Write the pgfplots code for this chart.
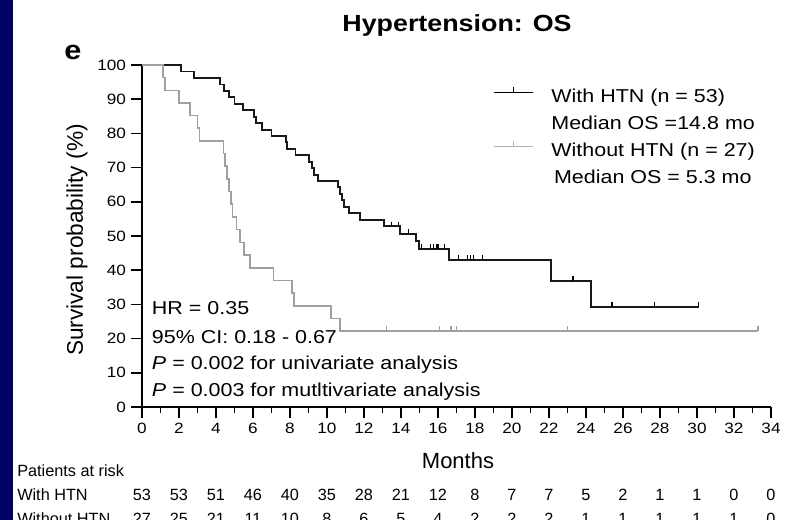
\documentclass[border=0pt]{standalone}
\usepackage{pgfplots}
\pgfplotsset{compat=1.18}
\usepackage{fontspec}
\setmainfont[FakeStretch=1.15]{Liberation Sans}
\newfontfamily\plainsans{Liberation Sans}
\definecolor{navyband}{RGB}{2,2,102}
\definecolor{nohtn}{RGB}{160,160,160}

% censoring tick: short vertical stroke rising from the curve
\pgfdeclareplotmark{cens}{%
  \pgfpathmoveto{\pgfpointorigin}%
  \pgfpathlineto{\pgfpoint{0pt}{3.5pt}}%
  \pgfusepathqstroke}

\begin{document}
\begin{tikzpicture}
\fill[white] (-106.5pt,-84.75pt) rectangle (483pt,305.25pt);
\fill[navyband] (-106.5pt,-84.75pt) rectangle (-96.75pt,305.25pt);

\begin{axis}[
  at={(0pt,0pt)}, anchor=south west,
  scale only axis, width=471.75pt, height=256.5pt,
  xmin=0, xmax=34, ymin=0, ymax=100,
  clip=false,
  axis lines=left,
  axis line style={-, line width=1.3pt},
  tick style={black, line width=1.1pt},
  tick align=outside,
  major tick length=8.5pt, minor tick length=4.25pt,
  xtick={0,2,...,34}, minor x tick num=1,
  ytick={0,10,...,100},
  /pgf/number format/assume math mode=true,
  tick label style={font=\fontsize{11.2}{13}\selectfont},
  xlabel={Months},
  xlabel style={font=\plainsans\fontsize{16.5}{19}\selectfont,
    at={(axis description cs:0.5024,-0.1784)}, anchor=base},
  ylabel={Survival probability (\%)},
  ylabel style={font=\plainsans\fontsize{17}{20}\selectfont,
    at={(axis description cs:-0.1033,0.488)}, anchor=center},
  legend cell align=left,
  legend style={draw=none, fill=none, at={(axis cs:18.97,94.7)},
    anchor=north west, inner sep=0pt, column sep=13.5pt, row sep=6.25pt,
    font=\fontsize{14}{16}\selectfont,
    nodes={inner sep=0pt, text height=14pt, text depth=0pt}},
]

% With HTN (n = 53)
\addplot[const plot mark left, black!90, line width=1.4pt,
  legend image code/.code={
    \draw[black, line width=0.9pt] (0pt,0pt) -- (29.25pt,0pt);
    \draw[black, line width=0.9pt] (14.6pt,0pt) -- (14.6pt,4pt);}]
  coordinates {
  (0,100) (2.1,98.1) (2.8,96.2) (4.2,94.3) (4.45,92.5) (4.7,90.6)
  (5.0,88.7) (5.45,86.8) (6.05,84.9) (6.15,83.0) (6.5,81.1) (7.0,79.2)
  (7.8,77.4) (7.85,75.5) (8.3,73.6) (9.05,71.7) (9.2,69.8) (9.3,67.9)
  (9.5,66.0) (10.6,64.2) (10.7,62.3) (10.8,60.4) (10.9,58.5) (11.2,56.6)
  (11.8,54.7) (13.1,52.8) (13.95,50.7) (14.8,48.6) (14.95,46.3)
  (16.6,43.0) (22.1,36.9) (24.25,29.3) (30.1,29.3)};
\addlegendentry{With HTN (n = 53)}
\addlegendimage{empty legend}
\addlegendentry{Median OS =14.8 mo}

% Without HTN (n = 27)
\addplot[const plot mark left, nohtn, line width=1.2pt,
  legend image code/.code={
    \draw[nohtn!80, line width=0.9pt] (0pt,0pt) -- (29.25pt,0pt);
    \draw[nohtn!80, line width=0.9pt] (14.6pt,0pt) -- (14.6pt,4pt);}]
  coordinates {
  (0,100) (1.15,96.3) (1.25,92.6) (2.0,88.9) (2.6,85.2) (3.0,81.5)
  (3.1,77.8) (4.4,74.1) (4.5,70.4) (4.6,66.7) (4.7,63.0) (4.8,59.3)
  (4.9,55.6) (5.1,51.9) (5.3,48.1) (5.5,44.4) (5.85,40.7) (7.1,37.0)
  (8.1,33.3) (8.2,29.6) (10.2,25.9) (10.7,22.2) (33.3,22.2)};
\addlegendentry{Without HTN (n = 27)}
\addlegendimage{empty legend}
\addlegendentry{\hspace{2pt}Median OS = 5.3 mo}

% censored observations
\addplot[forget plot, only marks, mark=cens, black, line width=0.9pt]
  coordinates {
  (13.5,52.8) (13.85,52.8) (14.4,50.7) (15.1,46.3) (15.6,46.3)
  (15.75,46.3) (15.9,46.3) (16.0,46.3) (16.35,46.3) (17.1,43.0)
  (17.6,43.0) (17.75,43.0) (17.9,43.0) (18.4,43.0) (23.3,36.9)
  (25.4,29.3) (27.7,29.3) (30.1,29.3)};
\addplot[forget plot, only marks, mark=cens, nohtn, line width=0.9pt]
  coordinates {
  (13.2,22.2) (16.1,22.2) (16.7,22.2) (17.0,22.2) (23.0,22.2) (33.3,22.2)};
\end{axis}

% title and panel letter
\node[anchor=base, font=\bfseries\fontsize{17.5}{20}\selectfont]
  at (236.25pt,281.25pt) {Hypertension: OS};
\node[anchor=base west, inner sep=0pt, font=\bfseries\fontsize{20}{22}\selectfont]
  at (-58.5pt,260.25pt) {e};

% statistics
\begin{scope}[every node/.style={anchor=base west, inner sep=0pt,
    font=\fontsize{14}{16}\selectfont}]
\node at (7.3pt,69.5pt) {HR = 0.35};
\node at (7.3pt,47.8pt) {95\% CI: 0.18 - 0.67};
\node at (7.3pt,28.3pt) {\textit{P} = 0.002 for univariate analysis};
\node at (7.3pt,7.7pt) {\textit{P} = 0.003 for mutltivariate analysis};
\end{scope}

% numbers at risk
\begin{scope}[every node/.style={inner sep=0pt,
    font=\plainsans\fontsize{12.2}{14}\selectfont}]
\node[anchor=base west] at (-93.75pt,-52.5pt) {Patients at risk};
\node[anchor=base west] at (-93.75pt,-70.3pt) {With HTN};
\node[anchor=base west] at (-93.75pt,-88.1pt) {Without HTN};
\foreach \n [count=\i from 0] in {53,53,51,46,40,35,28,21,12,8,7,7,5,2,1,1,0,0}
  \node[anchor=base] at ({\i*27.75pt},-70.3pt) {\n};
\foreach \n [count=\i from 0] in {27,25,21,11,10,8,6,5,4,2,2,2,1,1,1,1,1,0}
  \node[anchor=base] at ({\i*27.75pt},-88.1pt) {\n};
\end{scope}

\pgfresetboundingbox
\path[use as bounding box] (-106.5pt,-84.75pt) rectangle (483pt,305.25pt);
\end{tikzpicture}
\end{document}
